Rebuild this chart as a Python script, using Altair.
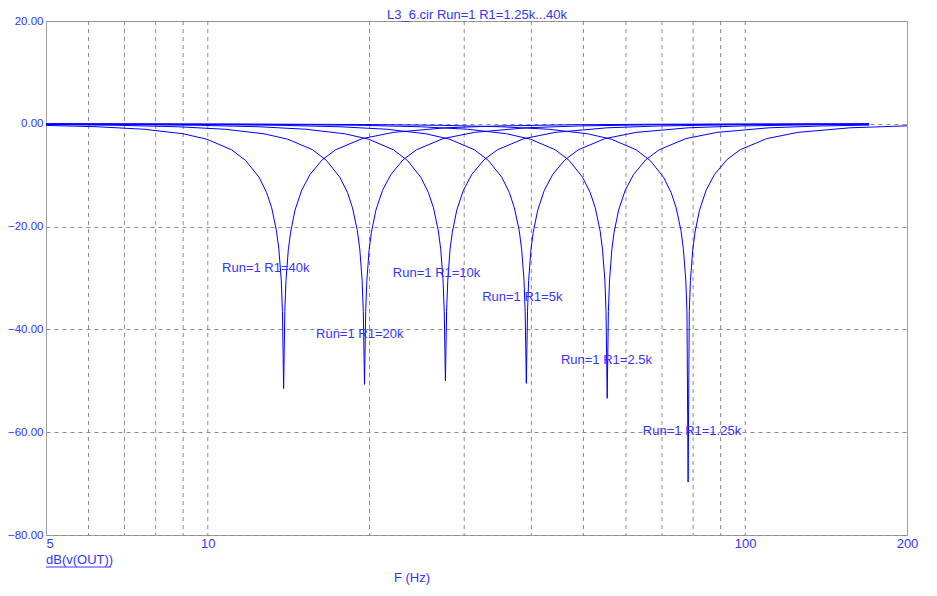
import altair as alt
import pandas as pd

# Curves: frequency (Hz) and gain (dB) per R1 value
R40_f = [5, 6.23, 7.61, 9.0, 9.96, 11.07, 11.76, 12.46, 12.87, 13.15, 13.42, 13.56, 13.70, 13.77, 13.84, 13.91, 13.98, 14.12, 14.26, 14.53, 14.95, 15.5, 16.33, 17.3, 19.38, 22.14, 27.68, 34.6, 48.44, 69.2, 170]
R40_db = [-0.31, -0.58, -1.06, -1.94, -3.0, -5.04, -7.14, -10.4, -13.4, -16.35, -20.8, -24.4, -30.4, -36.5, -51.5, -36.5, -30.5, -24.5, -21.1, -16.8, -12.95, -9.83, -7.0, -5.04, -2.89, -1.67, -0.78, -0.42, -0.18, -0.08, -0.01]

R20_f = [5, 6.85, 8.81, 10.76, 12.72, 14.09, 15.66, 16.63, 17.61, 18.2, 18.59, 18.98, 19.18, 19.37, 19.47, 19.57, 19.67, 19.77, 19.96, 20.16, 20.55, 21.14, 21.92, 23.09, 24.46, 27.4, 31.31, 39.14, 48.93, 68.5, 97.85, 170]
R20_db = [-0.14, -0.30, -0.58, -1.06, -1.94, -3.0, -5.04, -7.14, -10.4, -13.4, -16.35, -20.8, -24.4, -30.4, -36.5, -50.7, -36.5, -30.5, -24.5, -21.1, -16.8, -12.95, -9.83, -7.0, -5.04, -2.89, -1.67, -0.78, -0.42, -0.18, -0.08, -0.03]

R10_f = [5, 6.92, 9.69, 12.46, 15.22, 17.99, 19.93, 22.14, 23.53, 24.91, 25.74, 26.3, 26.85, 27.13, 27.4, 27.54, 27.68, 27.82, 27.96, 28.23, 28.51, 29.06, 29.89, 31.0, 32.66, 34.6, 38.75, 44.29, 55.36, 69.2, 96.88, 138.4, 170]
R10_db = [-0.07, -0.14, -0.30, -0.58, -1.06, -1.94, -3.0, -5.04, -7.14, -10.4, -13.4, -16.35, -20.8, -24.4, -30.4, -36.5, -50.0, -36.5, -30.5, -24.5, -21.1, -16.8, -12.95, -9.83, -7.0, -5.04, -2.89, -1.67, -0.78, -0.42, -0.18, -0.08, -0.06]

R5_f = [5, 9.79, 13.7, 17.62, 21.53, 25.45, 28.19, 31.32, 33.28, 35.24, 36.41, 37.19, 37.98, 38.37, 38.76, 38.95, 39.15, 39.35, 39.54, 39.93, 40.32, 41.11, 42.28, 43.85, 46.2, 48.94, 54.81, 62.64, 78.3, 97.88, 137.0, 170]
R5_db = [-0.04, -0.14, -0.30, -0.58, -1.06, -1.94, -3.0, -5.04, -7.14, -10.4, -13.4, -16.35, -20.8, -24.4, -30.4, -36.5, -50.5, -36.5, -30.5, -24.5, -21.1, -16.8, -12.95, -9.83, -7.0, -5.04, -2.89, -1.67, -0.78, -0.42, -0.18, -0.11]

R2_5_f = [5, 8.3, 13.84, 19.38, 24.91, 30.45, 35.98, 39.86, 44.29, 47.06, 49.82, 51.48, 52.59, 53.7, 54.25, 54.81, 55.08, 55.36, 55.64, 55.91, 56.47, 57.02, 58.13, 59.79, 62.0, 65.32, 69.2, 77.5, 88.58, 110.7, 138.4, 170]
R2_5_db = [-0.02, -0.05, -0.14, -0.30, -0.58, -1.06, -1.94, -3.0, -5.04, -7.14, -10.4, -13.4, -16.35, -20.8, -24.4, -30.4, -36.5, -53.4, -36.5, -30.5, -24.5, -21.1, -16.8, -12.95, -9.83, -7.0, -5.04, -2.89, -1.67, -0.78, -0.42, -0.25]

R1_25_f = [5, 11.75, 19.58, 27.4, 35.24, 43.07, 50.9, 56.38, 62.64, 66.56, 70.47, 72.82, 74.39, 75.95, 76.73, 77.52, 77.91, 78.3, 78.69, 79.08, 79.87, 80.65, 82.22, 84.56, 87.7, 92.39, 97.88, 109.6, 125.3, 156.6, 200]
R1_25_db = [-0.01, -0.05, -0.14, -0.30, -0.58, -1.06, -1.94, -3.0, -5.04, -7.14, -10.4, -13.4, -16.35, -20.8, -24.4, -30.4, -36.5, -69.7, -36.5, -30.5, -24.5, -21.1, -16.8, -12.95, -9.83, -7.0, -5.04, -2.89, -1.67, -0.78, -0.40]

# Labels
label_text = ["Run=1 R1=40k", "Run=1 R1=20k", "Run=1 R1=10k", "Run=1 R1=5k", "Run=1 R1=2.5k", "Run=1 R1=1.25k"]
label_f = [10.63, 15.9, 22.1, 32.4, 45.4, 64.5]
label_db = [-28.1, -40.8, -29.1, -33.6, -46.0, -59.8]

grid_f = [6, 7, 8, 9, 10, 20, 30, 40, 50, 60, 70, 80, 90, 100]
x_ticks = [5, 10, 100, 200]
y_ticks = [-80, -60, -40, -20, 0, 20]

BLUE = "#0000ff"
TXT = "#3434ff"
FONT = "Liberation Sans"

curves = [("40k", R40_f, R40_db), ("20k", R20_f, R20_db), ("10k", R10_f, R10_db),
          ("5k", R5_f, R5_db), ("2.5k", R2_5_f, R2_5_db), ("1.25k", R1_25_f, R1_25_db)]
rows = []
for name, fs, ds in curves:
    for i, (f, d) in enumerate(zip(fs, ds)):
        rows.append({"run": name, "f": f, "db": d, "i": i})
df = pd.DataFrame(rows)
lab = pd.DataFrame({"f": label_f, "db": label_db, "t": label_text})
grid = pd.DataFrame({"f": grid_f})

xenc = alt.X("f:Q",
             scale=alt.Scale(type="log", domain=[5, 200], nice=False),
             axis=alt.Axis(values=x_ticks, format="d", title=None, domain=False, ticks=False,
                           grid=False, labelColor=TXT, labelFont=FONT, labelFontSize=13,
                           labelPadding=2, labelFlush=False,
                           labelAlign={"condition": {"test": "datum.value == 5", "value": "left"}, "value": "center"}))
yenc = alt.Y("db:Q",
             scale=alt.Scale(domain=[-80, 20], nice=False),
             axis=alt.Axis(values=y_ticks, format=".2f", title=None, domain=False, ticks=False,
                           grid=True, gridDash=[4, 4], gridColor="#8a8a8a", gridWidth=1,
                           labelColor=TXT, labelFont=FONT, labelFontSize=11.5, labelPadding=3))

gridrules = alt.Chart(grid).mark_rule(color="#8a8a8a", strokeDash=[4, 4], strokeWidth=1).encode(x=xenc)

lines = alt.Chart(df).mark_line(color=BLUE, strokeWidth=1).encode(
    x=xenc, y=yenc, detail="run:N", order="i:Q")

labels = alt.Chart(lab).mark_text(align="left", baseline="middle", color=TXT, font=FONT, fontSize=13).encode(
    x=xenc, y=yenc, text="t:N")

one = pd.DataFrame({"a": [0]})
title = alt.Chart(one).mark_text(align="center", baseline="alphabetic", color=TXT, font=FONT, fontSize=13).encode(
    x=alt.value(431), y=alt.value(-2.5), text=alt.value("L3_6.cir Run=1 R1=1.25k...40k"))
ylab = alt.Chart(one).mark_text(align="left", baseline="middle", color=TXT, font=FONT, fontSize=13).encode(
    x=alt.value(0), y=alt.value(539), text=alt.value("dB(v(OUT))"))
uline = alt.Chart(one).mark_rule(color=TXT, strokeWidth=1).encode(
    x=alt.value(0), x2=alt.value(65), y=alt.value(546))
xlab = alt.Chart(one).mark_text(align="center", baseline="middle", color=TXT, font=FONT, fontSize=13).encode(
    x=alt.value(366), y=alt.value(557), text=alt.value("F (Hz)"))

chart = alt.layer(gridrules, lines, labels, title, ylab, uline, xlab).properties(
    width=861, height=514,
    autosize=alt.AutoSizeParams(type="none"),
    padding={"left": 38, "top": 13, "right": 20, "bottom": 50},
    background="white",
).configure_view(stroke="#a0a0a0", strokeWidth=1)

chart.save("out.html", embed_options={"renderer": "svg", "actions": False})
